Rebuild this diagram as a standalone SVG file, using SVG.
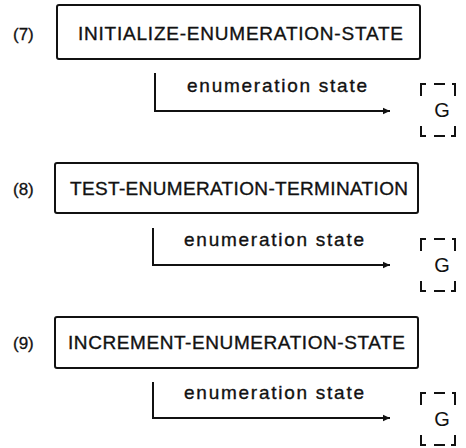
<svg xmlns="http://www.w3.org/2000/svg" width="466" height="448" viewBox="0 0 466 448">
  <defs>
    <style>
      .box { fill: #ffffff; stroke: #111; stroke-width: 2; }
      .line { fill: none; stroke: #111; stroke-width: 2; }
      .brk { fill: none; stroke: #111; stroke-width: 2; stroke-linecap: square; }
      .num { font-family: "Liberation Sans", Arial, sans-serif; font-size: 17px; fill: #111; stroke: #111; stroke-width: 0.3; }
      .title { font-family: "Liberation Sans", Arial, sans-serif; font-size: 19px; fill: #111; stroke: #111; stroke-width: 0.35; }
      .lbl { font-family: "Liberation Sans", Arial, sans-serif; font-size: 19px; fill: #111; stroke: #111; stroke-width: 0.35; }
      .g { font-family: "Liberation Sans", Arial, sans-serif; font-size: 20px; fill: #111; }
    </style>
    <marker id="arrow" markerWidth="8" markerHeight="8" refX="7" refY="4" orient="auto" markerUnits="userSpaceOnUse">
      <path d="M0,0.8 L7,4 L0,7.2 Z" fill="#111"/>
    </marker>
    <!-- dashed bracket frame around the G marker -->
    <g id="gframe">
      <path class="brk" d="M4,12 V1 H8"/>
      <path class="brk" d="M38,1 V12 M38,1 H36"/>
      <path class="brk" d="M18,1 H27"/>
      <path class="brk" d="M4,44 V53 H8"/>
      <path class="brk" d="M38,44 V53 H35"/>
      <path class="brk" d="M18,53 H27"/>
    </g>
  </defs>

  <!-- step (7) -->
  <g id="step7">
    <text class="num" x="13" y="40">(7)</text>
    <rect class="box" x="57" y="5" width="363" height="54" rx="2"/>
    <text class="title" x="78" y="40" textLength="325" lengthAdjust="spacing">INITIALIZE-ENUMERATION-STATE</text>
  </g>
  <g id="g7">
    <use href="#gframe" x="417" y="83"/>
    <text class="g" x="442" y="117" text-anchor="middle">G</text>
  </g>

  <!-- step (8) -->
  <g id="step8">
    <text class="num" x="13" y="195">(8)</text>
    <rect class="box" x="55" y="163" width="363" height="50" rx="2"/>
    <text class="title" x="70" y="195" textLength="338" lengthAdjust="spacing">TEST-ENUMERATION-TERMINATION</text>
  </g>
  <g id="g8">
    <use href="#gframe" x="417" y="238"/>
    <text class="g" x="442" y="272" text-anchor="middle">G</text>
  </g>

  <!-- step (9) -->
  <g id="step9">
    <text class="num" x="13" y="349">(9)</text>
    <rect class="box" x="55" y="317" width="363" height="51" rx="2"/>
    <text class="title" x="68" y="349" textLength="337" lengthAdjust="spacing">INCREMENT-ENUMERATION-STATE</text>
  </g>
  <g id="g9">
    <use href="#gframe" x="417" y="392"/>
    <text class="g" x="442" y="426" text-anchor="middle">G</text>
  </g>

  <!-- enumeration state flows -->
  <g id="connectors">
    <path class="line" d="M155,73 V111 H390" marker-end="url(#arrow)"/>
    <text class="lbl" x="187" y="92" textLength="180" lengthAdjust="spacing">enumeration state</text>

    <path class="line" d="M153,228 V265 H390" marker-end="url(#arrow)"/>
    <text class="lbl" x="184" y="246" textLength="180" lengthAdjust="spacing">enumeration state</text>

    <path class="line" d="M153,382 V418 H390" marker-end="url(#arrow)"/>
    <text class="lbl" x="184" y="399" textLength="180" lengthAdjust="spacing">enumeration state</text>
  </g>
</svg>
